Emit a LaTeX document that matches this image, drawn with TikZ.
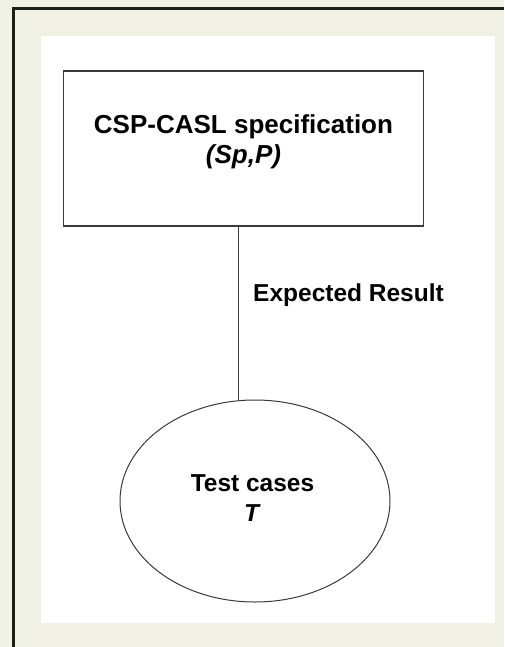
\documentclass[tikz,border=0pt]{standalone}
\usepackage{fontspec}
\setmainfont{Liberation Sans}
\usetikzlibrary{shapes.geometric}
\definecolor{bgcream}{HTML}{F0F0E5}
\definecolor{frameink}{HTML}{17211A}
\definecolor{lineink}{HTML}{3A3A3A}
\tikzset{
  lbl/.style={font=\fontsize{24.5}{30}\selectfont\bfseries, inner sep=0pt, align=center, text=black},
  biglbl/.style={lbl, font=\fontsize{26}{30}\selectfont\bfseries},
  specbox/.style={draw=lineink, line width=1.4pt, rectangle, minimum width=360pt, minimum height=155pt, inner sep=0pt},
  caseell/.style={draw=lineink, line width=1pt, ellipse, minimum width=270pt, minimum height=202pt, inner sep=0pt},
  conn/.style={draw=lineink, line width=1pt}
}
\begin{document}
\begin{tikzpicture}[x=1pt,y=-1pt]
\useasboundingbox (0,0) rectangle (504,647);
\fill[bgcream] (0,0) rectangle (504,647);
\draw[frameink, line width=2.6pt] (13.2,647) -- (13.2,8.8) -- (504,8.8);
\fill[white] (41,36) rectangle (495,623);
\node[specbox] (box) at (243.5,148.5) {};
\node[biglbl] (boxtext) at (243.5,141.5) {CSP-CASL specification\\\textit{(Sp,P)}};
\node[caseell] (ell) at (255,501) {};
\node[lbl] (elltext) at (252.5,498) {Test cases\\\textit{T}};
\coordinate (cx) at (238,300);
\draw[conn] (box.south -| cx) -- (ell.north -| cx);
\node[lbl, anchor=base west] (res) at (253,301.7) {Expected Result};
\end{tikzpicture}
\end{document}
